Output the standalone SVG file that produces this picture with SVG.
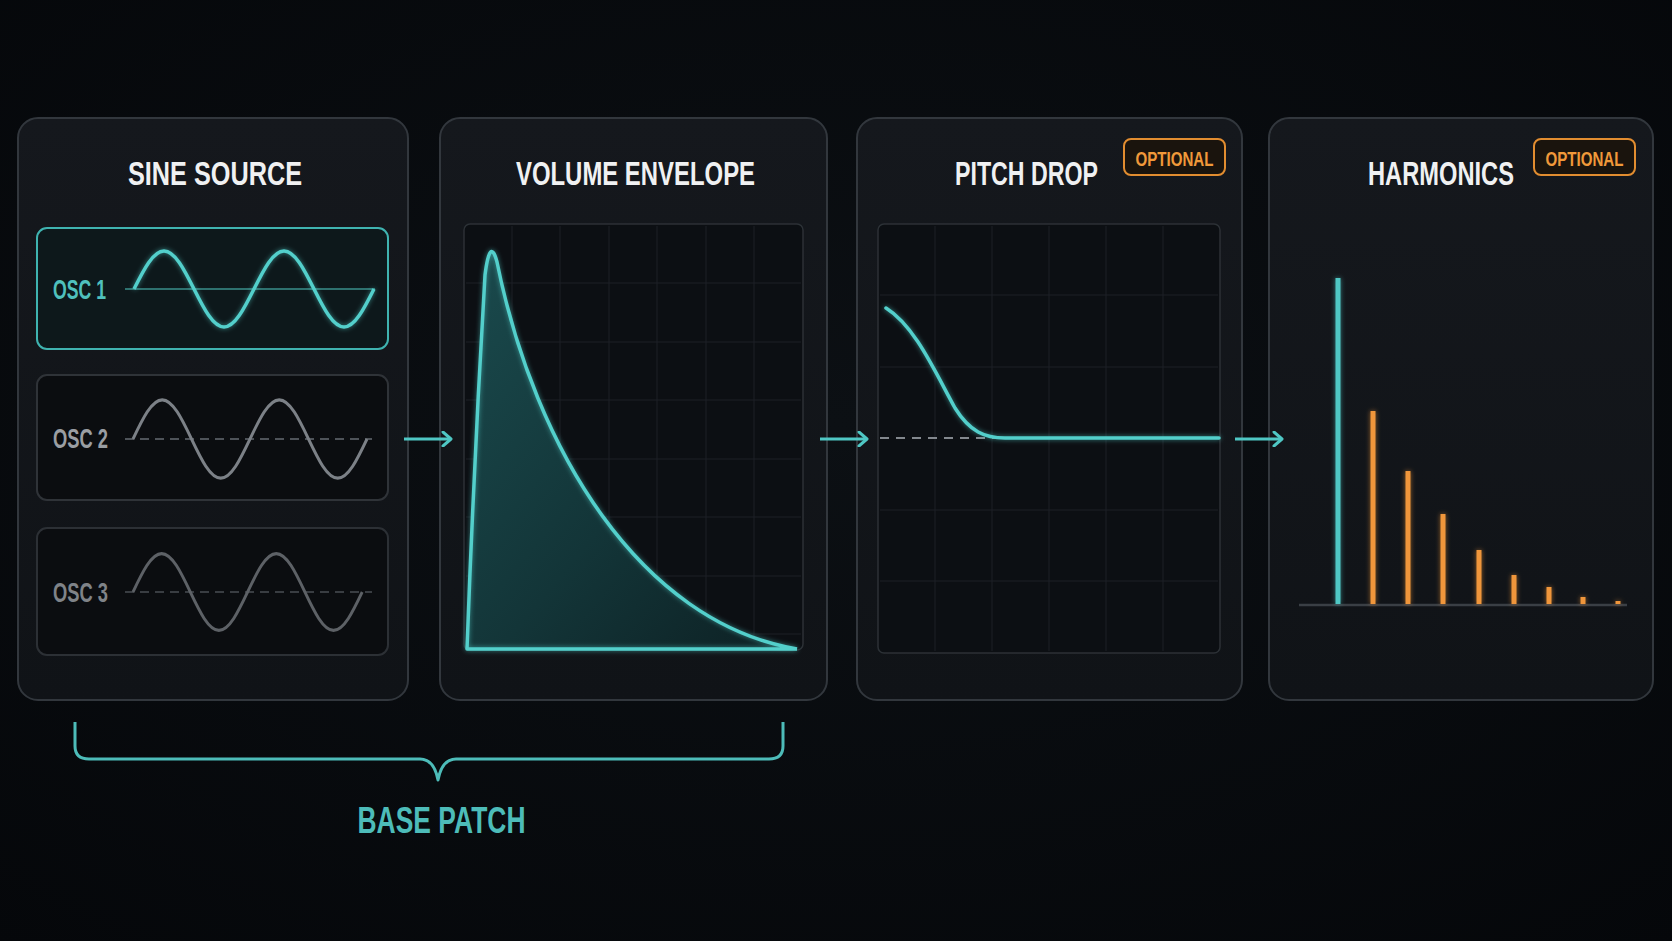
<svg xmlns="http://www.w3.org/2000/svg" width="1672" height="941" viewBox="0 0 1672 941">
  <defs>
    <radialGradient id="bg" cx="50%" cy="45%" r="75%">
      <stop offset="0" stop-color="#0c1014"/>
      <stop offset="1" stop-color="#05070a"/>
    </radialGradient>
    <linearGradient id="panelFill" x1="0" y1="0" x2="0" y2="1">
      <stop offset="0" stop-color="#15181d"/>
      <stop offset="1" stop-color="#101317"/>
    </linearGradient>
    <linearGradient id="envFill" x1="0" y1="0" x2="1" y2="1">
      <stop offset="0" stop-color="#1a4a4d"/>
      <stop offset="0.55" stop-color="#133538"/>
      <stop offset="1" stop-color="#0d2023"/>
    </linearGradient>
    <filter id="glow" x="-20%" y="-20%" width="140%" height="140%">
      <feGaussianBlur in="SourceGraphic" stdDeviation="2.5" result="b"/>
      <feComponentTransfer in="b" result="bf">
        <feFuncA type="linear" slope="0.6"/>
      </feComponentTransfer>
      <feMerge>
        <feMergeNode in="bf"/>
        <feMergeNode in="SourceGraphic"/>
      </feMerge>
    </filter>
    <marker id="arrow" viewBox="0 0 12 16" refX="10" refY="8" markerWidth="12" markerHeight="16" markerUnits="userSpaceOnUse" orient="auto">
      <path d="M2,1 L10,8 L2,15" fill="none" stroke="#4fc7c4" stroke-width="3" stroke-linecap="round" stroke-linejoin="round"/>
    </marker>
    <path id="sine" d="M0,0 C9.78,-19.47 19.14,-38 30,-38 S50.22,-19.47 60,0 S79.14,38 90,38 S110.22,19.47 120,0 S139.14,-38 150,-38 S170.22,-19.47 180,0 S199.14,38 210,38 S230.22,19.47 240,0"/>
    <style>
      .panel { fill: url(#panelFill); stroke: #32373d; stroke-width: 2; }
      .chart { fill: #0c0f13; stroke: #2c3136; stroke-width: 1.5; }
      .grid { stroke: #1c2126; stroke-width: 1; }
      .title { font-family: "Liberation Sans", Arial, sans-serif; font-weight: bold; font-size: 33px; fill: #f0f1f2; text-anchor: middle; }
      .badge { fill: #1a140d; stroke: #e28d30; stroke-width: 2; }
      .badgeText { font-family: "Liberation Sans", Arial, sans-serif; font-weight: bold; font-size: 21px; fill: #f0993a; text-anchor: middle; }
      .osc { font-family: "Liberation Sans", Arial, sans-serif; font-weight: bold; font-size: 27px; }
      .teal { stroke: #52cfcb; fill: none; }
      .bar { stroke-width: 5; }
      .conn { stroke: #4fc7c4; stroke-width: 3; fill: none; }
    </style>
  </defs>

  <rect width="1672" height="941" fill="url(#bg)"/>

  <!-- Panel 1: Sine Source -->
  <g id="sine-source">
    <rect class="panel" x="18" y="118" width="390" height="582" rx="20"/>
    <text class="title" transform="translate(215,185) scale(0.72,1)" x="0" y="0" textLength="241.7" lengthAdjust="spacingAndGlyphs">SINE SOURCE</text>
    <g id="osc1">
      <rect x="37" y="228" width="351" height="121" rx="10" fill="#0d181b" stroke="#3fb3b0" stroke-width="2"/>
      <text class="osc" x="53" y="299" fill="#4fc0bd" textLength="53" lengthAdjust="spacingAndGlyphs">OSC 1</text>
      <line x1="125" y1="289" x2="375" y2="289" stroke="#3a8f8d" stroke-width="1.5"/>
      <use href="#sine" transform="translate(134,289)" fill="none" stroke="#52cfcb" stroke-width="3.5" filter="url(#glow)"/>
    </g>
    <g id="osc2">
      <rect x="37" y="375" width="351" height="125" rx="10" fill="#0b0d10" stroke="#2f3338" stroke-width="2"/>
      <text class="osc" x="53" y="448" fill="#9a9ea3" textLength="55" lengthAdjust="spacingAndGlyphs">OSC 2</text>
      <line x1="125" y1="439" x2="372" y2="439" stroke="#666b71" stroke-width="1.5" stroke-dasharray="9 6"/>
      <use href="#sine" transform="translate(133,439) scale(0.975,1.03)" fill="none" stroke="#7c8187" stroke-width="3"/>
    </g>
    <g id="osc3">
      <rect x="37" y="528" width="351" height="127" rx="10" fill="#0b0d10" stroke="#2c3035" stroke-width="2"/>
      <text class="osc" x="53" y="602" fill="#7f8388" textLength="55" lengthAdjust="spacingAndGlyphs">OSC 3</text>
      <line x1="125" y1="592" x2="372" y2="592" stroke="#4a4e53" stroke-width="1.5" stroke-dasharray="9 6"/>
      <use href="#sine" transform="translate(133,592) scale(0.955,1.01)" fill="none" stroke="#5d6166" stroke-width="3"/>
    </g>
  </g>

  <!-- Panel 2: Volume Envelope -->
  <g id="volume-envelope">
    <rect class="panel" x="440" y="118" width="387" height="582" rx="20"/>
    <text class="title" transform="translate(635.5,185) scale(0.72,1)" x="0" y="0" textLength="332" lengthAdjust="spacingAndGlyphs">VOLUME ENVELOPE</text>
    <rect class="chart" x="464" y="224" width="339" height="426" rx="6"/>
    <g class="grid">
      <line x1="512" y1="226" x2="512" y2="648"/>
      <line x1="560" y1="226" x2="560" y2="648"/>
      <line x1="609" y1="226" x2="609" y2="648"/>
      <line x1="657" y1="226" x2="657" y2="648"/>
      <line x1="706" y1="226" x2="706" y2="648"/>
      <line x1="754" y1="226" x2="754" y2="648"/>
      <line x1="466" y1="283" x2="801" y2="283"/>
      <line x1="466" y1="342" x2="801" y2="342"/>
      <line x1="466" y1="400" x2="801" y2="400"/>
      <line x1="466" y1="459" x2="801" y2="459"/>
      <line x1="466" y1="517" x2="801" y2="517"/>
      <line x1="466" y1="576" x2="801" y2="576"/>
      <line x1="466" y1="634" x2="801" y2="634"/>
    </g>
    <path d="M467,649 Q474,460 485,275 Q490,236 497,262 C535,450 640,622 797,649 Z" fill="url(#envFill)"/>
    <path class="teal" d="M797,649 L467,649 Q474,460 485,275 Q490,236 497,262 C535,450 640,622 797,649" stroke-width="3.5" stroke-linejoin="round" filter="url(#glow)"/>
  </g>

  <!-- Panel 3: Pitch Drop -->
  <g id="pitch-drop">
    <rect class="panel" x="857" y="118" width="385" height="582" rx="20"/>
    <text class="title" transform="translate(1026.5,185) scale(0.72,1)" x="0" y="0" textLength="198.6" lengthAdjust="spacingAndGlyphs">PITCH DROP</text>
    <rect class="badge" x="1124" y="139" width="101" height="36" rx="7"/>
    <text class="badgeText" x="1174.5" y="166" textLength="78" lengthAdjust="spacingAndGlyphs">OPTIONAL</text>
    <rect class="chart" x="878" y="224" width="342" height="429" rx="6"/>
    <g class="grid">
      <line x1="935" y1="226" x2="935" y2="651"/>
      <line x1="992" y1="226" x2="992" y2="651"/>
      <line x1="1049" y1="226" x2="1049" y2="651"/>
      <line x1="1106" y1="226" x2="1106" y2="651"/>
      <line x1="1163" y1="226" x2="1163" y2="651"/>
      <line x1="880" y1="295" x2="1218" y2="295"/>
      <line x1="880" y1="367" x2="1218" y2="367"/>
      <line x1="880" y1="510" x2="1218" y2="510"/>
      <line x1="880" y1="581" x2="1218" y2="581"/>
    </g>
    <line x1="880" y1="438" x2="1005" y2="438" stroke="#83888e" stroke-width="2" stroke-dasharray="9 7"/>
    <path class="teal" d="M886,308 C915,326 935,372 955,408 C970,432 985,438 1005,438 L1219,438" stroke-width="3.5" stroke-linecap="round" filter="url(#glow)"/>
  </g>

  <!-- Panel 4: Harmonics -->
  <g id="harmonics">
    <rect class="panel" x="1269" y="118" width="384" height="582" rx="20"/>
    <text class="title" transform="translate(1441,185) scale(0.72,1)" x="0" y="0" textLength="202.8" lengthAdjust="spacingAndGlyphs">HARMONICS</text>
    <rect class="badge" x="1534" y="139" width="101" height="36" rx="7"/>
    <text class="badgeText" x="1584.5" y="166" textLength="78" lengthAdjust="spacingAndGlyphs">OPTIONAL</text>
    <line x1="1299" y1="605" x2="1627" y2="605" stroke="#3a3f45" stroke-width="2.5"/>
    <g filter="url(#glow)">
      <line class="bar" x1="1338" y1="278" x2="1338" y2="604" stroke="#4fc8c5"/>
      <g stroke="#f0963a">
        <line class="bar" x1="1373" y1="411" x2="1373" y2="604"/>
        <line class="bar" x1="1408" y1="471" x2="1408" y2="604"/>
        <line class="bar" x1="1443" y1="514" x2="1443" y2="604"/>
        <line class="bar" x1="1479" y1="550" x2="1479" y2="604"/>
        <line class="bar" x1="1514" y1="575" x2="1514" y2="604"/>
        <line class="bar" x1="1549" y1="587" x2="1549" y2="604"/>
        <line class="bar" x1="1583" y1="597" x2="1583" y2="604"/>
        <line class="bar" x1="1618" y1="601" x2="1618" y2="604"/>
      </g>
    </g>
  </g>

  <!-- Connectors -->
  <g id="connectors">
    <line class="conn" x1="404" y1="439" x2="451" y2="439" marker-end="url(#arrow)"/>
    <line class="conn" x1="820" y1="439" x2="867" y2="439" marker-end="url(#arrow)"/>
    <line class="conn" x1="1235" y1="439" x2="1282" y2="439" marker-end="url(#arrow)"/>
  </g>

  <!-- Base patch bracket -->
  <g id="base-patch">
    <path d="M75,722 L75,746 Q75,759 89,759 L420,759 Q434,759 438,780 Q442,759 456,759 L769,759 Q783,759 783,746 L783,722" fill="none" stroke="#4dbcb9" stroke-width="3" stroke-linejoin="round"/>
    <text x="441.5" y="833" font-family="Liberation Sans, Arial, sans-serif" font-weight="bold" font-size="36" fill="#4dbcb9" text-anchor="middle" textLength="168" lengthAdjust="spacingAndGlyphs">BASE PATCH</text>
  </g>
</svg>
